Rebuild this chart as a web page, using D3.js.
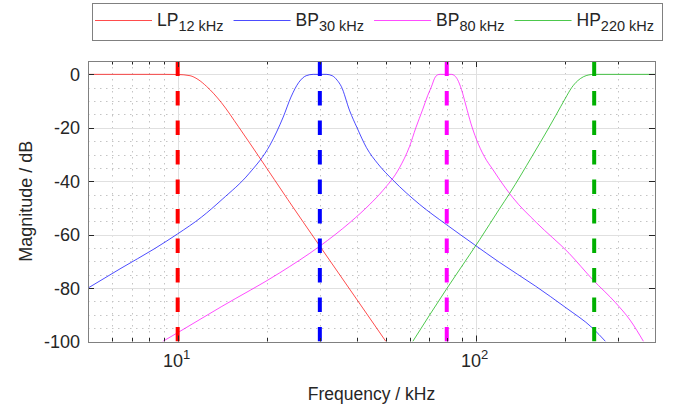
<!DOCTYPE html>
<html>
<head>
<meta charset="utf-8">
<script src="https://cdn.jsdelivr.net/npm/d3@7"></script>
<style>
body { margin: 0; background: #fff; }
text { font-family: "Liberation Sans", Arial, sans-serif; fill: #262626; }
</style>
</head>
<body>
<svg width="673" height="412"></svg>
<script>
// magnitude responses, [frequency kHz, dB]
var lpPoints = [[5, 0], [9, 0], [10, -0.05], [11, -0.5], [11.7, -1.9], [12.5, -4.5], [14, -10.5],
  [16, -19.6], [19, -31.8], [23.4, -46.8], [30, -64.3], [40, -84.4], [50, -100]];
var bp30Points = [[5, -80], [6.45, -72.6], [8.35, -65.3], [10, -59.7], [12, -53.5], [14.1, -46.8],
  [17.4, -37], [20.4, -26.5], [22.6, -16], [24, -8.5], [25.5, -3], [27, -0.5], [28.5, 0], [31.5, 0],
  [33, -0.5], [34.3, -2.2], [35.4, -4.5], [37.8, -13.7], [40, -20], [43, -27.4], [47, -33.5],
  [52.7, -39.5], [64.9, -48.7], [79.7, -56.2], [99.2, -63.8], [120, -70.3], [159, -79.3],
  [200, -87.2], [247, -95], [273, -100]];
var bp80Points = [[8.9, -100], [10, -96.7], [14, -87], [22, -74.3], [30, -64.3], [38, -55.3],
  [44.1, -48.7], [48.8, -43.5], [55.5, -35], [60, -27], [63, -20], [66.5, -13], [69, -8], [71.2, -4.4],
  [72.8, -1.5], [74.5, -0.2], [76, 0], [83, 0], [85, -0.5], [87, -2], [89.6, -5.6], [92.9, -11.9],
  [96.5, -18.5], [100.6, -24.3], [107, -30.8], [114.5, -35.8], [120, -39.2], [133.4, -46.2],
  [160, -55.5], [206, -67], [247, -76.8], [295, -85.5], [330, -92], [366, -100]];
var hpPoints = [[61.5, -100], [79.7, -80.5], [95.5, -67.5], [103.3, -61.8], [120, -50.5], [130, -44.6],
  [155, -30.5], [175, -20.5], [186, -15.3], [200, -9], [210, -5], [220, -2.4], [230, -0.9],
  [240, -0.2], [250, 0], [400, 0]];

var cutoffFreqs = [10, 30, 80, 250];
var seriesColors = ["#ff0000", "#0000ff", "#ff00ff", "#00b000"];
var legendNames = ["LP", "BP", "BP", "HP"];
var legendSubs = ["12 kHz", "30 kHz", "80 kHz", "220 kHz"];
var yTicks = [-100, -80, -60, -40, -20, 0];
var xTicks = [10, 100];
var xTickExp = ["1", "2"];

var series = [lpPoints, bp30Points, bp80Points, hpPoints];

var svg = d3.select("svg");

var x = d3.scaleLog().domain([5, 400]).range([88, 655]);
var y = d3.scaleLinear().domain([-100, 5]).range([341.5, 61]);

var pLeft = x.range()[0], pRight = x.range()[1];
var pTop = y.range()[1], pBottom = y.range()[0];

function px(v) { return Math.round(v) + 0.5; }

svg.append("defs").append("clipPath").attr("id", "plot")
  .append("rect")
  .attr("x", pLeft).attr("y", pTop)
  .attr("width", pRight - pLeft).attr("height", pBottom - pTop);

// minor grid (dotted)
var minorX = x.ticks().filter(function(d) { return xTicks.indexOf(d) < 0; });
var minorY = d3.range(-95, 5, 5).filter(function(d) { return d % 20 != 0; });

var grid = svg.append("g");
grid.selectAll(".mx").data(minorX).enter().append("line")
  .attr("x1", function(d) { return px(x(d)); }).attr("x2", function(d) { return px(x(d)); })
  .attr("y1", pTop).attr("y2", pBottom)
  .attr("stroke", "#c4c4c4").attr("stroke-dasharray", "1.5,4.5");
grid.selectAll(".my").data(minorY).enter().append("line")
  .attr("y1", function(d) { return px(y(d)); }).attr("y2", function(d) { return px(y(d)); })
  .attr("x1", pLeft).attr("x2", pRight)
  .attr("stroke", "#c4c4c4").attr("stroke-dasharray", "1.5,4.5");

// major grid
grid.selectAll(".gx").data(xTicks).enter().append("line")
  .attr("x1", function(d) { return px(x(d)); }).attr("x2", function(d) { return px(x(d)); })
  .attr("y1", pTop).attr("y2", pBottom)
  .attr("stroke", "#e0e0e0");
grid.selectAll(".gy").data(yTicks).enter().append("line")
  .attr("y1", function(d) { return px(y(d)); }).attr("y2", function(d) { return px(y(d)); })
  .attr("x1", pLeft).attr("x2", pRight)
  .attr("stroke", "#e0e0e0");

var line = d3.line()
  .x(function(d) { return x(d[0]); })
  .y(function(d) { return y(d[1]); })
  .curve(d3.curveMonotoneX);

var plot = svg.append("g").attr("clip-path", "url(#plot)");

plot.selectAll(".curve").data(series).enter().append("path")
  .attr("d", line)
  .attr("fill", "none")
  .attr("stroke", function(d, i) { return seriesColors[i]; })
  .attr("stroke-opacity", 0.7)
  .attr("stroke-width", 1);

// cutoff markers, drawn bottom to top
plot.selectAll(".cut").data(cutoffFreqs).enter().append("line")
  .attr("x1", function(d) { return x(d); }).attr("x2", function(d) { return x(d); })
  .attr("y1", y(-100)).attr("y2", y(5))
  .attr("stroke", function(d, i) { return seriesColors[i]; })
  .attr("stroke-width", 4)
  .attr("stroke-dasharray", "14.5,15");

// ticks, pointing inward
var tk = svg.append("g").attr("stroke", "#262626");
tk.selectAll(".tmx").data(minorX).enter().append("path")
  .attr("d", function(d) {
    var xx = px(x(d));
    return "M" + xx + "," + pBottom + "v-3.5M" + xx + "," + pTop + "v3.5";
  });
tk.selectAll(".tx").data(xTicks).enter().append("path")
  .attr("d", function(d) {
    var xx = px(x(d));
    return "M" + xx + "," + pBottom + "v-6M" + xx + "," + pTop + "v6";
  });
tk.selectAll(".ty").data(yTicks).enter().append("path")
  .attr("d", function(d) {
    var yy = px(y(d));
    return "M" + pLeft + "," + yy + "h6M" + pRight + "," + yy + "h-6";
  });

// box
svg.append("rect")
  .attr("x", px(pLeft)).attr("y", px(pTop))
  .attr("width", Math.round(pRight - pLeft)).attr("height", Math.round(pBottom - pTop))
  .attr("fill", "none").attr("stroke", "#808080");

// tick labels
svg.selectAll(".yl").data(yTicks).enter().append("text")
  .attr("x", pLeft - 8).attr("y", function(d) { return y(d) + 6.5; })
  .attr("text-anchor", "end")
  .attr("font-size", 18)
  .text(function(d) { return d; });

var xl = svg.selectAll(".xl").data(xTicks).enter().append("text")
  .attr("x", function(d) { return x(d) - 1; }).attr("y", 367)
  .attr("text-anchor", "middle")
  .attr("font-size", 18);
xl.append("tspan").text("10");
xl.append("tspan").attr("font-size", 13).attr("dy", -8).text(function(d, i) { return xTickExp[i]; });

svg.append("text")
  .attr("x", (pLeft + pRight) / 2).attr("y", 400)
  .attr("text-anchor", "middle")
  .attr("font-size", 17.5)
  .text("Frequency / kHz");

svg.append("text")
  .attr("transform", "translate(32," + (pTop + pBottom) / 2 + ") rotate(-90)")
  .attr("text-anchor", "middle")
  .attr("font-size", 18)
  .text("Magnitude / dB");

// legend
var legend = svg.append("g");
var box = legend.append("rect")
  .attr("x", 92.5).attr("y", 3.5).attr("height", 37)
  .attr("fill", "#fff").attr("stroke", "#808080");

var lx = 95;
legendNames.forEach(function(name, i) {
  legend.append("line")
    .attr("x1", lx).attr("x2", lx + 57)
    .attr("y1", 20.5).attr("y2", 20.5)
    .attr("stroke", seriesColors[i]).attr("stroke-opacity", 0.7);
  var t = legend.append("text")
    .attr("x", lx + 62).attr("y", 26)
    .attr("font-size", 17.5);
  t.append("tspan").text(name);
  t.append("tspan").attr("font-size", 14.5).attr("dy", 5).text(legendSubs[i]);
  lx = lx + 62 + t.node().getComputedTextLength() + 10;
});
box.attr("width", Math.round(lx - 92.5 - 2));
</script>
</body>
</html>
